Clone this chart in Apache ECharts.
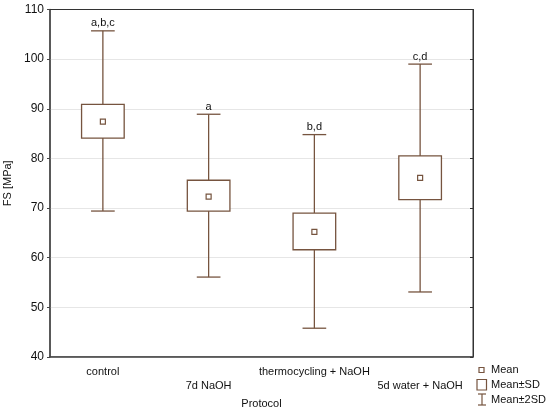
<!DOCTYPE html>
<html>
<head>
<meta charset="utf-8">
<script src="https://cdn.jsdelivr.net/npm/echarts@6/dist/echarts.min.js"></script>
<style>html,body{margin:0;padding:0;background:#fff}#c{width:550px;height:411px}</style>
</head>
<body>
<div id="c"></div>
<script>
const categories = ['control', '7d NaOH', 'thermocycling + NaOH', '5d water + NaOH'];
const means = [87.4, 72.3, 65.2, 76.1];
const sdLow = [84.1, 69.4, 61.6, 71.7];
const sdHigh = [90.9, 75.6, 69.0, 80.5];
const whiskLow = [69.4, 56.1, 45.8, 53.1];
const whiskHigh = [105.7, 88.9, 84.8, 99.0];
const groupLabels = ['a,b,c', 'a', 'b,d', 'c,d'];
const yTicks = { min: 40, max: 110, interval: 10 };

const COL = '#76543f';
const FONT = 'Liberation Sans, Arial, sans-serif';

const data = categories.map((c, i) => [i, means[i], sdLow[i], sdHigh[i], whiskLow[i], whiskHigh[i]]);

const chart = echarts.init(document.getElementById('c'), null, { renderer: 'canvas' });

function renderItem(params, api) {
  const i = api.value(0);
  const band = api.size([1, 0])[0];
  const x = api.coord([i, 0])[0];
  const yM = api.coord([i, api.value(1)])[1];
  const ySL = api.coord([i, api.value(2)])[1];
  const ySH = api.coord([i, api.value(3)])[1];
  const yWL = api.coord([i, api.value(4)])[1];
  const yWH = api.coord([i, api.value(5)])[1];
  const bw = band * 0.403;
  const cw = band * 0.224;
  const ms = 5;
  const st = { stroke: COL, lineWidth: 1.3, fill: null };
  return {
    type: 'group',
    children: [
      { type: 'line', shape: { x1: x, y1: yWH, x2: x, y2: ySH }, style: st },
      { type: 'line', shape: { x1: x, y1: ySL, x2: x, y2: yWL }, style: st },
      { type: 'line', shape: { x1: x - cw / 2, y1: yWH, x2: x + cw / 2, y2: yWH }, style: st },
      { type: 'line', shape: { x1: x - cw / 2, y1: yWL, x2: x + cw / 2, y2: yWL }, style: st },
      { type: 'rect', shape: { x: x - bw / 2, y: ySH, width: bw, height: ySL - ySH }, style: { stroke: COL, lineWidth: 1.3, fill: '#fff' } },
      { type: 'rect', shape: { x: x - ms / 2, y: yM - ms / 2, width: ms, height: ms }, style: { stroke: COL, lineWidth: 1.2, fill: '#fff' } },
      { type: 'text', x: x, y: yWH - 2, style: { text: groupLabels[i], fill: '#111', font: '11px ' + FONT, align: 'center', verticalAlign: 'bottom' } }
    ]
  };
}

const lx = 481.5;
chart.setOption({
  animation: false,
  grid: { left: 50, right: 77, top: 9.5, bottom: 54, show: true, borderColor: '#333', borderWidth: 1, backgroundColor: 'transparent', containLabel: false, outerBoundsMode: 'none' },
  xAxis: [
    {
      type: 'category', data: categories, position: 'bottom',
      axisLine: { lineStyle: { color: '#444', width: 1.5 } },
      axisTick: { alignWithLabel: true, inside: true, length: 3, lineStyle: { color: '#444' } },
      axisLabel: {
        interval: 0, color: '#111', fontSize: 11, fontFamily: FONT, margin: 8, lineHeight: 14,
        formatter: (v, i) => (i % 2 ? '\n' + v : v)
      },
      name: 'Protocol', nameLocation: 'middle', nameGap: 41,
      nameTextStyle: { color: '#111', fontSize: 11, fontFamily: FONT }
    },
    {
      type: 'category', data: categories, position: 'top',
      axisLine: { show: true, lineStyle: { color: '#333', width: 1 } },
      axisTick: { alignWithLabel: true, inside: true, length: 3, lineStyle: { color: '#333' } },
      axisLabel: { show: false }
    }
  ],
  yAxis: [
    {
      type: 'value', min: yTicks.min, max: yTicks.max, interval: yTicks.interval, position: 'left',
      axisLine: { show: true, lineStyle: { color: '#444', width: 1.5 } },
      axisTick: { show: true, length: 3, lineStyle: { color: '#444' } },
      axisLabel: { color: '#111', fontSize: 12, fontFamily: FONT, margin: 6 },
      splitLine: { show: true, lineStyle: { color: '#e6e6e6', width: 1 } },
      name: 'FS [MPa]', nameLocation: 'middle', nameGap: 29, nameRotate: 90,
      nameTextStyle: { color: '#111', fontSize: 11, fontFamily: FONT }
    },
    {
      type: 'value', min: yTicks.min, max: yTicks.max, interval: yTicks.interval, position: 'right',
      axisLine: { show: true, lineStyle: { color: '#333', width: 1 } },
      axisTick: { show: true, inside: true, length: 3, lineStyle: { color: '#333' } },
      axisLabel: { show: false },
      splitLine: { show: false }
    }
  ],
  series: [{
    type: 'custom',
    name: 'FS',
    xAxisIndex: 0, yAxisIndex: 0,
    renderItem: renderItem,
    encode: { x: 0, y: [1, 2, 3, 4, 5] },
    data: data,
    z: 5
  }],
  graphic: [
    { type: 'rect', shape: { x: lx - 2.5, y: 367.5, width: 5, height: 5 }, style: { stroke: COL, lineWidth: 1.2, fill: '#fff' } },
    { type: 'text', x: 491, y: 370, style: { text: 'Mean', fill: '#111', font: '11px ' + FONT, verticalAlign: 'middle' } },
    { type: 'rect', shape: { x: 477, y: 379.5, width: 9.5, height: 10.5 }, style: { stroke: COL, lineWidth: 1.2, fill: '#fff' } },
    { type: 'text', x: 491, y: 385, style: { text: 'Mean±SD', fill: '#111', font: '11px ' + FONT, verticalAlign: 'middle' } },
    { type: 'line', shape: { x1: 478, y1: 394, x2: 486, y2: 394 }, style: { stroke: COL, lineWidth: 1.2 } },
    { type: 'line', shape: { x1: 482, y1: 394, x2: 482, y2: 405 }, style: { stroke: COL, lineWidth: 1.2 } },
    { type: 'line', shape: { x1: 478, y1: 405, x2: 486, y2: 405 }, style: { stroke: COL, lineWidth: 1.2 } },
    { type: 'text', x: 491, y: 400, style: { text: 'Mean±2SD', fill: '#111', font: '11px ' + FONT, verticalAlign: 'middle' } }
  ]
});
</script>
</body>
</html>
